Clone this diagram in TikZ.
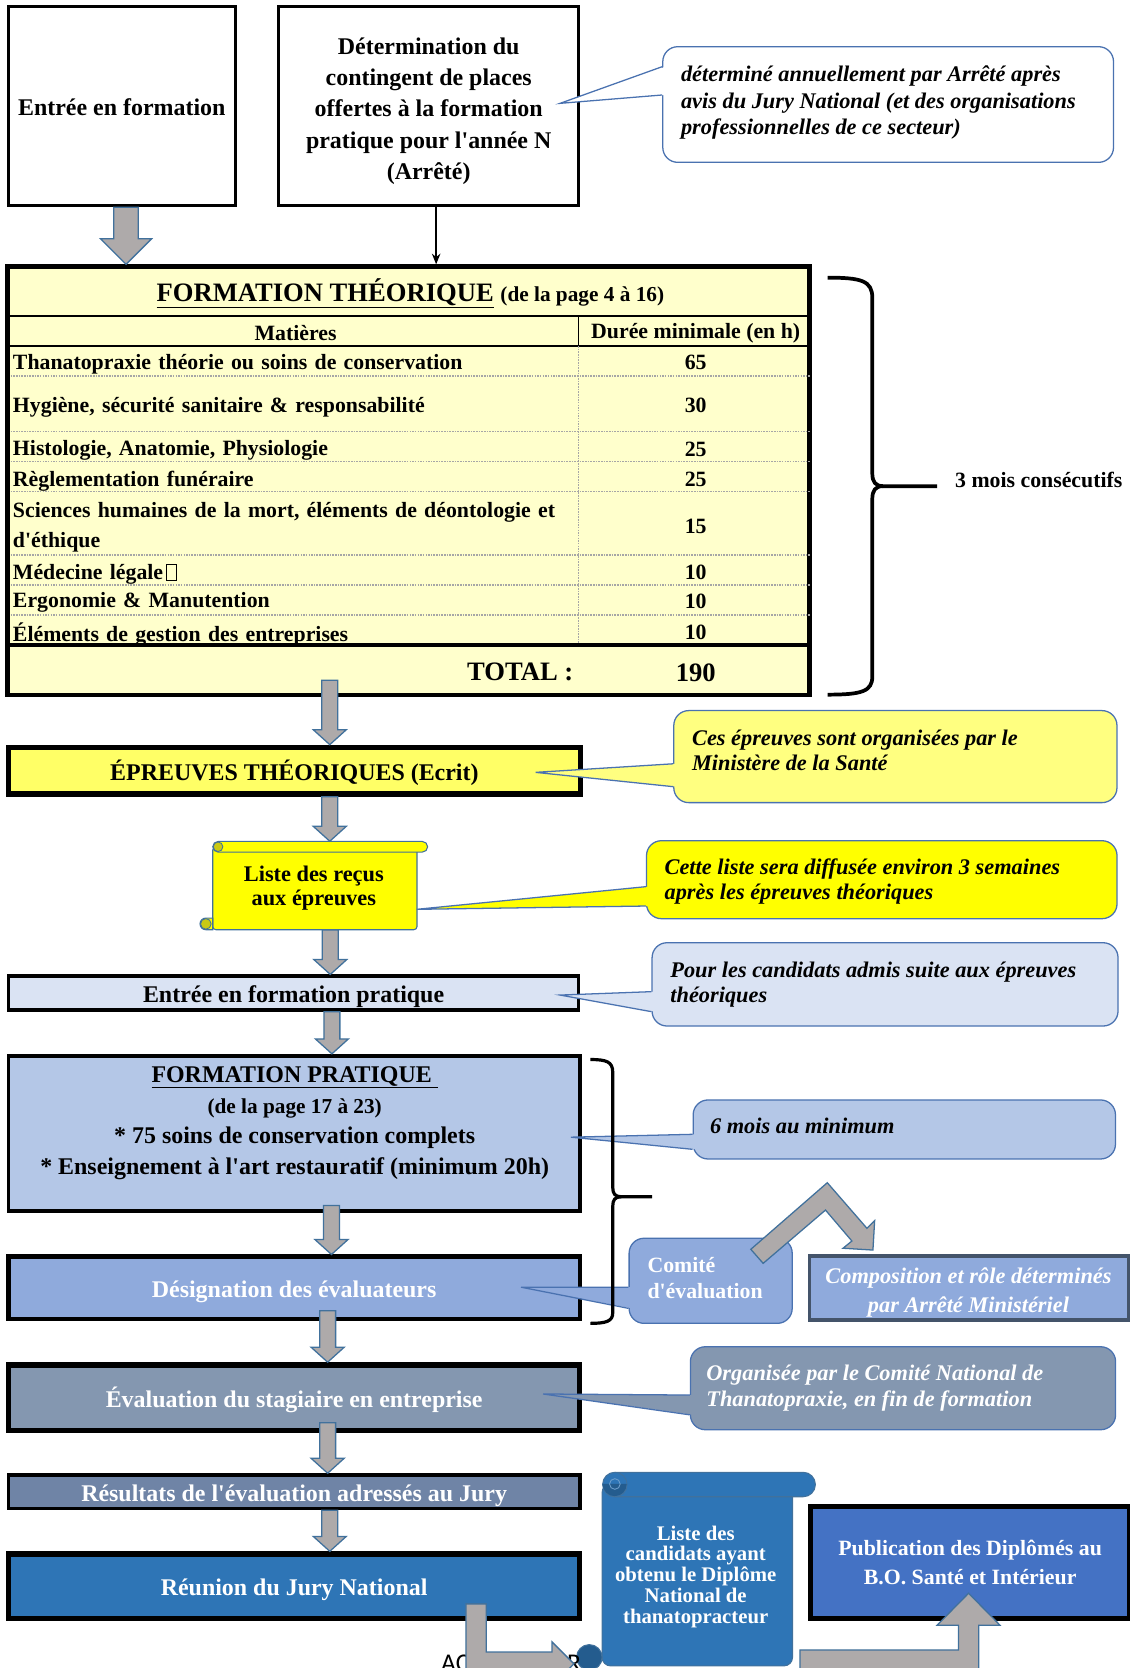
\documentclass[tikz,border=0pt]{standalone}
\usepackage{fontspec}
\setmainfont{Liberation Serif}[Ligatures=TeXOff]
\newfontfamily\calibrifont{Carlito}
\usetikzlibrary{calc,arrows.meta}

\definecolor{theoY}{HTML}{FFFFCC}
\definecolor{eprY}{HTML}{FFFF66}
\definecolor{noteY}{HTML}{FFFF80}
\definecolor{listY}{HTML}{FFFF00}
\definecolor{curlY}{HTML}{C9C914}
\definecolor{pratA}{HTML}{DAE3F3}
\definecolor{pratB}{HTML}{B4C7E7}
\definecolor{pratC}{HTML}{8FAADC}
\definecolor{evalC}{HTML}{8497B0}
\definecolor{resC}{HTML}{6F84A6}
\definecolor{juryC}{HTML}{2E75B6}
\definecolor{pubC}{HTML}{4472C4}
\definecolor{curlB}{HTML}{245C8E}
\definecolor{noteB}{HTML}{4A72B0}
\definecolor{edgeB}{HTML}{41719C}
\definecolor{slateB}{HTML}{44546A}
\definecolor{arrowG}{HTML}{AEAAAA}

\newcommand\fsz[2]{\fontsize{#1}{#2}\selectfont}
\newcommand\tofu{\hspace{3pt}{\setlength\fboxsep{0pt}\setlength\fboxrule{0.6pt}\framebox[10pt]{\rule{0pt}{14pt}}}}

\def\arrsw{7.5pt}\def\arrhw{15.5pt}\def\arrhl{14pt}
% grey block arrow going down at abscissa #1, from #2 to #3
\newcommand\blockdown[3]{%
  \draw[blockarrow] let \p1=(#2), \p2=(#3) in
    (#1pt-\arrsw,\y1) -- (#1pt-\arrsw,\y2+\arrhl) -- (#1pt-\arrhw,\y2+\arrhl) -- (#1pt,\y2)
    -- (#1pt+\arrhw,\y2+\arrhl) -- (#1pt+\arrsw,\y2+\arrhl) -- (#1pt+\arrsw,\y1) -- cycle;}
% pointer of call-out #1 towards #2, leaving its left side between #3 and #4
\newcommand\callptr[5]{%
  \fill[#5] (#2) -- ($(#1.west |- 0,#3)+(3,0)$) -- ($(#1.west |- 0,#4)+(3,0)$) -- cycle;
  \draw[noteline] (#1.west |- 0,#3) -- (#2) -- (#1.west |- 0,#4);}

\begin{document}
\begin{tikzpicture}[x=1pt,y=-1pt,
  flowbox/.style={draw=black, line width=3pt, inner sep=0pt, align=center,
    font=\fsz{22.5}{29.5}\bfseries},
  heavybox/.style={flowbox, line width=5pt},
  oneline/.style={text height=18pt, text depth=0pt},
  note/.style={draw=noteB, line width=1.2pt, rounded corners=14pt},
  noteline/.style={draw=noteB, line width=1.2pt},
  notetext/.style={anchor=west, align=left, inner sep=0pt, font=\fsz{21}{23.5}\bfseries\itshape},
  cell/.style={inner sep=0pt, font=\fsz{20.5}{28}\bfseries},
  rowsep/.style={gray!70, line width=1.5pt, densely dotted},
  blockarrow/.style={fill=arrowG, draw=edgeB, line width=1.2pt},
  brace/.style={line width=3.5pt},
  scrollY/.style={fill=listY, draw=edgeB, line width=1pt},
  scrollB/.style={fill=juryC, draw=edgeB, line width=1pt}]
\useasboundingbox (0,0) rectangle (1062,1568);

\node[flowbox, oneline, minimum width=213, minimum height=187] (entree) at (114.5,99.9) {Entrée en formation};
\node[flowbox, minimum width=282.5, minimum height=187] (contingent) at (402.75,99.9) {};
\node[inner sep=0pt, align=center, font=\fsz{22.5}{29.5}\bfseries] (contT) at (403,104.5)
  {Détermination du\\contingent de places\\offertes à la formation\\pratique pour l'année N\\(Arrêté)};

% formation theorique
\node[draw, line width=4.5pt, fill=theoY, minimum width=753.6, minimum height=402.6] (theo) at (384.2,452) {};
\draw[line width=2pt] (theo.west |- 0,297) -- (theo.east |- 0,297);
\draw[line width=1.5pt] (theo.west |- 0,325.3) -- (theo.east |- 0,325.3);
\draw[line width=1.5pt] (544,297) -- (544,325.3);
\draw[rowsep] (544,325.3) -- (544,606.3);
\foreach \y in {353.5,405.8,434,462.2,521.7,550,578}
  \draw[rowsep] (10,\y) -- (761,\y);
\draw[line width=4pt] (theo.west |- 0,606.3) -- (theo.east |- 0,606.3);
\node[cell, font=\fsz{25}{30}\bfseries] (theoT) at (385.8,276)
  {\underline{FORMATION THÉORIQUE} {\fsz{20}{24}(de la page 4 à 16)}};
\node[cell] (matH) at (277.8,313) {Matières};
\node[cell] (dureeH) at (654,313) {Durée minimale (en h)};
\foreach \y/\txt/\h [count=\i] in {
    340/Thanatopraxie théorie ou soins de conservation/65,
    380.5/{Hygiène, sécurité sanitaire \& responsabilité}/30,
    421/{Histologie, Anatomie, Physiologie}/25,
    449.5/Règlementation funéraire/25,
    493.5/{Sciences humaines de la mort, éléments de déontologie et\\d'éthique}/15,
    537.4/Médecine légale\tofu/10,
    564/Ergonomie \& Manutention/10,
    593.8/Éléments de gestion des entreprises/10}{
  \node[cell, anchor=west, align=left, text width=528] (mat\i) at (12,\y+2.5) {\txt};
  \node[cell] (h\i) at (654,\y+1) {\h};
}
\node[cell, font=\fsz{25}{30}\bfseries] (totL) at (489,632) {TOTAL :};
\node[cell, font=\fsz{25}{30}\bfseries] (totV) at (654,632) {190};

\node[heavybox, oneline, fill=eprY, minimum width=537.3, minimum height=44] (epr) at (276.75,724.5) {ÉPREUVES THÉORIQUES (Ecrit)};

% scroll of the list
\draw[scrollY, rounded corners=3pt] (200,796) -- (200,874) -- (392,874) -- (392,796) -- cycle;
\draw[scrollY] (200,863) -- (193.5,863) arc[start angle=90,end angle=270,radius=5.5pt] -- (200,874) -- cycle;
\draw[fill=curlY, draw=edgeB, line width=0.8pt] (193.5,868.5) circle (5pt);
\draw[scrollY] (205,791) -- (397,791) arc[start angle=90,end angle=-90,radius=5pt]
  -- (205,801) arc[start angle=270,end angle=90,radius=5pt] -- cycle;
\draw[fill=curlY, draw=edgeB, line width=0.8pt] (205,796) circle (4.5pt);
\node[inner sep=0pt, minimum width=192, minimum height=83] (recus) at (296,832.5) {};
\node[inner sep=0pt, align=center, font=\fsz{21}{22}\bfseries] (recusT) at (295,835) {Liste des reçus\\aux épreuves};

\node[flowbox, oneline, fill=pratA, minimum width=536, minimum height=32] (pratin) at (276,933.5) {Entrée en formation pratique};
\node[flowbox, line width=3.5pt, fill=pratB, minimum width=537, minimum height=146] (fpra) at (276.5,1065.4) {};
\node[inner sep=0pt, align=center, font=\fsz{22.5}{29}\bfseries] (fptxt) at (277,1055.8)
  {\underline{FORMATION PRATIQUE\ }\\{\fsz{20}{24}(de la page 17 à 23)}\\{}* 75 soins de conservation complets\\{}* Enseignement à l'art restauratif (minimum 20h)};
\node[flowbox, oneline, line width=4pt, fill=pratC, text=white, minimum width=537, minimum height=59] (desig) at (276.5,1210.75) {Désignation des évaluateurs};
\node[heavybox, oneline, fill=evalC, text=white, minimum width=537, minimum height=62] (evalst) at (276.5,1314) {Évaluation du stagiaire en entreprise};
\node[flowbox, oneline, line width=3.5pt, fill=resC, text=white, minimum width=537, minimum height=31.3] (resul) at (276.5,1402.3) {Résultats de l'évaluation adressés au Jury};
\node[heavybox, oneline, fill=juryC, text=white, minimum width=537, minimum height=60.4] (jury) at (276.5,1491) {Réunion du Jury National};
\node[heavybox, fill=pubC, text=white, font=\fsz{20.5}{27.3}\bfseries, minimum width=300, minimum height=104.8] (pub) at (912,1468.8)
  {Publication des Diplômés au\\B.O. Santé et Intérieur};
\node[flowbox, draw=slateB, fill=pratC, minimum width=300, minimum height=60.2] (compo) at (911,1210.8) {};
\node[inner sep=0pt, align=center, text=white, font=\fsz{21}{26.8}\bfseries\itshape] (compoT) at (910.4,1215)
  {Composition et rôle déterminés\\par Arrêté Ministériel};

% scroll of the diplomas
\draw[scrollB, rounded corners=8pt] (566,1395) -- (566,1566) -- (745,1566) -- (745,1395) -- cycle;
\draw[scrollB] (578,1384) -- (755,1384) arc[start angle=90,end angle=-90,radius=11.5pt]
  -- (578,1407) arc[start angle=270,end angle=90,radius=11.5pt] -- cycle;
\fill[curlB] (566.5,1395) arc[start angle=180,end angle=360,radius=11.5pt] -- cycle;
\draw[edgeB, line width=0.8pt] (578,1384) arc[start angle=90,end angle=-90,radius=11.5pt];
\draw[juryC!70!white, line width=0.8pt] (578,1395) circle (5pt);
\draw[scrollB, fill=curlB] (554,1558) circle (12pt);
\node[inner sep=0pt, align=center, text=white, font=\fsz{19.5}{19.5}\bfseries] (liste) at (654,1482)
  {Liste des\\candidats ayant\\obtenu le Diplôme\\National de\\thanatopracteur};

% arrows of the flow
\coordinate (kA) at ([xshift=7.25pt]contingent.south);
\draw[-{Stealth[length=10pt,width=8pt]}, line width=1.5pt] (kA) -- (kA |- theo.north);
{\def\arrsw{11.5pt}\def\arrhw{24pt}\def\arrhl{24pt}\blockdown{118.5}{entree.south}{theo.north}}
\blockdown{310}{$(theo.south)+(0,-16)$}{epr.north}
\blockdown{310}{epr.south}{recus.north}
\blockdown{310.5}{recus.south}{pratin.north}
\blockdown{312}{pratin.south}{fpra.north}
\blockdown{311.6}{$(fpra.south)+(0,-7)$}{desig.north}
\blockdown{308}{$(desig.south)+(0,-10)$}{evalst.north}
\blockdown{308}{$(evalst.south)+(0,-10)$}{resul.north}
\blockdown{310}{resul.south}{jury.north}

\node[font=\calibrifont\fsz{24}{28}, anchor=north west, inner sep=0pt] (acT) at (414.5,1555.5) {AC};
\node[font=\calibrifont\fsz{24}{28}, anchor=north west, inner sep=0pt] (rT) at (533,1555.5) {R};
\coordinate (r1a) at ($(jury.south)+(161.5,-16)$);
\coordinate (r1b) at (539.5,1564);
\draw[blockarrow] let \p1=(r1a), \p2=(r1b) in
  (\x1,\y1) -- (\x1+19pt,\y1) -- (\x1+19pt,\y2+11pt) -- (\x2-20.5pt,\y2+11pt) -- (\x2-20.5pt,\y2+20.5pt)
  -- (\x2,\y2) -- (\x2-20.5pt,\y2-20.5pt) -- (\x2-20.5pt,\y2-11pt) -- (\x1,\y2-11pt) -- cycle;
\coordinate (r2a) at (752,1551);
\coordinate (r2b) at ($(pub.south)+(-1.5,-26)$);
\draw[blockarrow] let \p1=(r2a), \p2=(r2b) in
  (\x1,\y1) -- (\x2-9.5pt,\y1) -- (\x2-9.5pt,\y2-30pt) -- (\x2-29.5pt,\y2-30pt) -- (\x2,\y2)
  -- (\x2+29.5pt,\y2-30pt) -- (\x2+9.5pt,\y2-30pt) -- (\x2+9.5pt,\y1-20pt) -- (\x1,\y1-20pt) -- cycle;

% call-outs
\node[note, fill=white, minimum width=423.7, minimum height=108.7] (noteA) at (834.9,98.25) {};
\coordinate (tipA) at ($(contingent.east)+(-19,-2.75)$);
\callptr{noteA}{tipA}{62.7}{89.3}{white}
\node[notetext, font=\fsz{21}{25}\bfseries\itshape] (noteAt) at (640,96.5)
  {déterminé annuellement par Arrêté après\\avis du Jury National (et des organisations\\professionnelles de ce secteur)};

\node[note, fill=noteY, minimum width=416.6, minimum height=86.5] (noteB) at (841.7,711.25) {};
\coordinate (tipB) at ($(epr.east)+(-44.4,1.55)$);
\callptr{noteB}{tipB}{718}{739.5}{noteY}
\node[notetext] (noteBt) at (650.4,705) {Ces épreuves sont organisées par le\\Ministère de la Santé};

\node[note, fill=listY, minimum width=442.3, minimum height=73.3] (noteC) at (828.9,826.95) {};
\coordinate (tipC) at ($(recus.east)+(-0.5,22.3)$);
\callptr{noteC}{tipC}{833.5}{851.7}{listY}
\node[notetext] (noteCt) at (624.6,828.5) {Cette liste sera diffusée environ 3 semaines\\après les épreuves théoriques};

\node[note, fill=pratA, minimum width=438, minimum height=78.3] (noteD) at (832,925.35) {};
\coordinate (tipD) at ($(pratin.east)+(-19,1.9)$);
\callptr{noteD}{tipD}{932.2}{951}{pratA}
\node[notetext] (noteDt) at (630,925.3) {Pour les candidats admis suite aux épreuves\\théoriques};

\node[note, fill=pratB, minimum width=397, minimum height=55.5] (noteE) at (850.1,1061.75) {};
\coordinate (tipE) at ($(fpra.east)+(-10,3.6)$);
\callptr{noteE}{tipE}{1066.3}{1080.4}{pratB}
\node[notetext] (noteEt) at (667.3,1058.5) {6 mois au minimum};

\node[note, fill=pratC, minimum width=153.3, minimum height=80] (comite) at (668.05,1204) {};
\coordinate (tipG) at ($(desig.east)+(-57.2,-0.75)$);
\callptr{comite}{tipG}{1210}{1229.9}{pratC}
\node[notetext, text=white, font=\fsz{20.5}{23.7}\bfseries] (comiteT) at (608.5,1201.5) {Comité\\d'évaluation};
\draw[blockarrow] (705.8,1174.4) -- (777.7,1111.8) -- (815,1154.7) -- (822.2,1147.5) -- (820.6,1175.1)
  -- (792.5,1173.4) -- (800.8,1166.6) -- (776,1137.5) -- (717.4,1187.6) -- cycle;

\node[note, fill=evalC, minimum width=399.7, minimum height=78] (noteF) at (848.85,1305) {};
\coordinate (tipF) at ($(evalst.east)+(-37,-3.6)$);
\callptr{noteF}{tipF}{1311.4}{1330}{evalC}
\node[notetext, text=white, font=\fsz{21}{24}\bfseries\itshape] (noteFt) at (663.8,1305)
  {Organisée par le Comité National de\\Thanatopraxie, en fin de formation};

% braces
\draw[brace] (778,261) .. controls (810,261) and (820,264) .. (820,280) -- (820,445)
  .. controls (820,453) and (823,457) .. (830,457) -- (881,457);
\draw[brace] (830,457) .. controls (823,457) and (820,461) .. (820,469) -- (820,636)
  .. controls (820,650) and (810,653) .. (778,653);
\node[cell, anchor=west] (troisMois) at (897.7,451) {3 mois consécutifs};
\draw[brace, line width=3pt] (555,996) .. controls (570,996) and (576,998) .. (576,1008) -- (576,1116)
  .. controls (576,1122) and (578,1125) .. (584,1125) -- (613,1125);
\draw[brace, line width=3pt] (584,1125) .. controls (578,1125) and (576,1128) .. (576,1134) -- (576,1234)
  .. controls (576,1242) and (570,1244) .. (555,1244);
\end{tikzpicture}
\end{document}
